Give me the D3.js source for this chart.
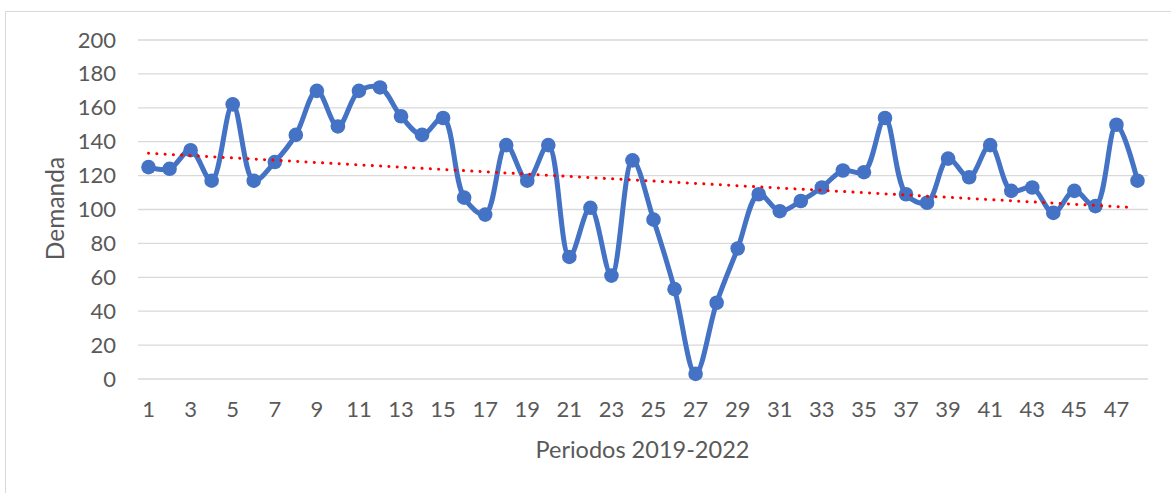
<!DOCTYPE html>
<html>
<head>
<meta charset="utf-8">
<script src="https://cdn.jsdelivr.net/npm/d3@7"></script>
<style>
  body { margin: 0; background: #fff; }
  svg { display: block; }
  svg text { font-family: Lato, "Liberation Sans", sans-serif; fill: #595959; }
</style>
</head>
<body>
<div id="chart"></div>
<script>
// demand per period (1..48)
var periods = d3.range(1, 49);
var demanda = [125, 124, 135, 117, 162, 117, 128, 144, 170, 149, 170, 172,
               155, 144, 154, 107, 97, 138, 117, 138, 72, 101, 61, 129,
               94, 53, 3, 45, 77, 109, 99, 105, 113, 123, 122, 154,
               109, 104, 130, 119, 138, 111, 113, 98, 111, 102, 150, 117];
var yTicks = [0, 20, 40, 60, 80, 100, 120, 140, 160, 180, 200];
var xTickLabels = periods.filter(function(p) { return p % 2 === 1; });

var W = 1171, H = 493;
var margin = {top: 40, right: 23, bottom: 114, left: 138},
    width = W - margin.left - margin.right,
    height = H - margin.top - margin.bottom;

var root = d3.select("#chart").append("svg")
    .attr("width", W)
    .attr("height", H);

// chart frame (runs off the right / bottom edge like the screenshot)
root.append("rect")
    .attr("x", 5.5).attr("y", 11.5)
    .attr("width", 1200).attr("height", 520)
    .attr("fill", "none")
    .attr("stroke", "#d9d9d9");

var svg = root.append("g")
    .attr("transform", "translate(" + margin.left + "," + margin.top + ")");

var x = d3.scaleBand()
    .domain(periods)
    .range([0, width]);

var y = d3.scaleLinear()
    .domain([0, 200])
    .range([height, 0]);

var cx = function(p) { return x(p) + x.bandwidth() / 2; };

// gridlines
svg.append("g")
    .selectAll("line")
    .data(yTicks)
  .enter().append("line")
    .attr("x1", 0).attr("x2", width)
    .attr("y1", function(d) { return y(d); })
    .attr("y2", function(d) { return y(d); })
    .attr("stroke", "#d9d9d9")
    .attr("stroke-width", 1.3);

// y axis labels
var yAxis = svg.append("g")
    .call(d3.axisLeft(y).tickValues(yTicks).tickSize(0).tickPadding(22));
yAxis.select(".domain").remove();
yAxis.attr("font-family", null);
yAxis.selectAll("text").style("font-size", "22px");

// x axis labels
var xAxis = svg.append("g")
    .attr("transform", "translate(0," + height + ")")
    .call(d3.axisBottom(x).tickValues(xTickLabels).tickSize(0).tickPadding(22));
xAxis.select(".domain").remove();
xAxis.attr("font-family", null);
xAxis.selectAll("text").style("font-size", "22px");

// axis titles
svg.append("text")
    .attr("x", cx(24) + 10)
    .attr("y", height + 79)
    .attr("text-anchor", "middle")
    .style("font-size", "23.5px")
    .text("Periodos 2019-2022");

svg.append("text")
    .attr("transform", "translate(" + (-74) + "," + (height / 2 - 1) + ") rotate(-90)")
    .attr("text-anchor", "middle")
    .style("font-size", "24.5px")
    .text("Demanda");

// demand line (smoothed)
var line = d3.line()
    .x(function(d, i) { return cx(periods[i]); })
    .y(function(d) { return y(d); })
    .curve(d3.curveCatmullRom.alpha(0.5));

svg.append("path")
    .datum(demanda)
    .attr("fill", "none")
    .attr("stroke", "#4472c4")
    .attr("stroke-width", 5)
    .attr("stroke-linejoin", "round")
    .attr("d", line);

svg.selectAll(".dot")
    .data(demanda)
  .enter().append("circle")
    .attr("class", "dot")
    .attr("cx", function(d, i) { return cx(periods[i]); })
    .attr("cy", function(d) { return y(d); })
    .attr("r", 7.3)
    .attr("fill", "#4472c4");

// linear trendline (least squares on the data)
var mx = d3.mean(periods),
    my = d3.mean(demanda);
var slope = d3.sum(periods, function(p, i) { return (p - mx) * (demanda[i] - my); }) /
            d3.sum(periods, function(p) { return (p - mx) * (p - mx); });
var icpt = my - slope * mx;

svg.append("line")
    .attr("x1", cx(1)).attr("x2", cx(48) - 5)
    .attr("y1", y(icpt + slope * 1))
    .attr("y2", y(icpt + slope * 48))
    .attr("stroke", "#ff0000")
    .attr("stroke-width", 3)
    .attr("stroke-linecap", "round")
    .attr("stroke-dasharray", "0.1 8.2");
</script>
</body>
</html>
